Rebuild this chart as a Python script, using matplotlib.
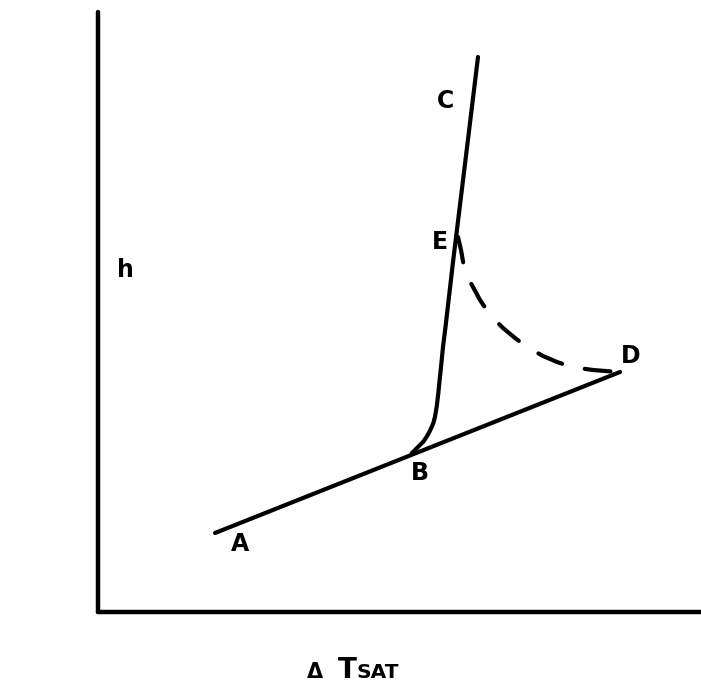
import matplotlib
matplotlib.use("Agg")
import matplotlib.pyplot as plt

# data (arbitrary units)
line_x = [117, 522]            # A -> D straight line
line_y = [79, 240]
curve_x = [313.7, 320.3, 325.3, 328.7, 332, 335.3, 337, 338.7, 340.3, 341.3, 342.7, 343.7, 345.0, 347.5, 355, 367, 380]   # B -> E -> C
curve_y = [158.7, 165.3, 170.3, 175.3, 181.3, 188.7, 195.3, 205.3, 218.7, 228.7, 242, 252, 265, 285, 350, 448, 555]
dash_x = [360, 363, 366, 370, 375, 382, 392, 405, 417, 429, 445, 459, 474, 495, 520]   # E -> D dashed
dash_y = [375, 362, 345, 334, 325, 312, 297, 284, 274, 265, 256, 250, 245, 242, 240]
labels = ["A", "B", "C", "D", "E"]
label_x = [142, 322, 348, 533, 342]
label_y = [68, 139, 511, 256, 370]

fig = plt.figure(figsize=(7.01, 6.89), dpi=100)
ax = fig.add_axes([98/701, 77/689, 603/701, 600/689])
ax.set_xlim(0, 603)
ax.set_ylim(0, 600)
ax.spines["top"].set_visible(False)
ax.spines["right"].set_visible(False)
for s in ("left", "bottom"):
    ax.spines[s].set_linewidth(3.2)
    ax.spines[s].set_capstyle("round")
ax.set_xticks([])
ax.set_yticks([])

ax.plot(line_x, line_y, color="black", lw=3, solid_capstyle="round")
ax.plot(curve_x, curve_y, color="black", lw=3, solid_capstyle="round", solid_joinstyle="round")
ax.plot(dash_x, dash_y, color="black", lw=3, dashes=(6.2, 5.6), dash_capstyle="round")

for t, x, y in zip(labels, label_x, label_y):
    ax.text(x, y, t, fontsize=17, fontweight="bold", ha="center", va="center")

fig.text(125/701, 1 - 270/689, "h", fontsize=17, fontweight="bold", ha="center", va="center")
fig.text(307/701, 1 - 678/689, "Δ", fontsize=15, fontweight="bold", ha="left", va="baseline")
fig.text(338/701, 1 - 678/689, "T", fontsize=20, fontweight="bold", ha="left", va="baseline")
fig.text(357/701, 1 - 678/689, "SAT", fontsize=14.5, fontweight="bold", ha="left", va="baseline")

fig.savefig("out.png", dpi=100)
